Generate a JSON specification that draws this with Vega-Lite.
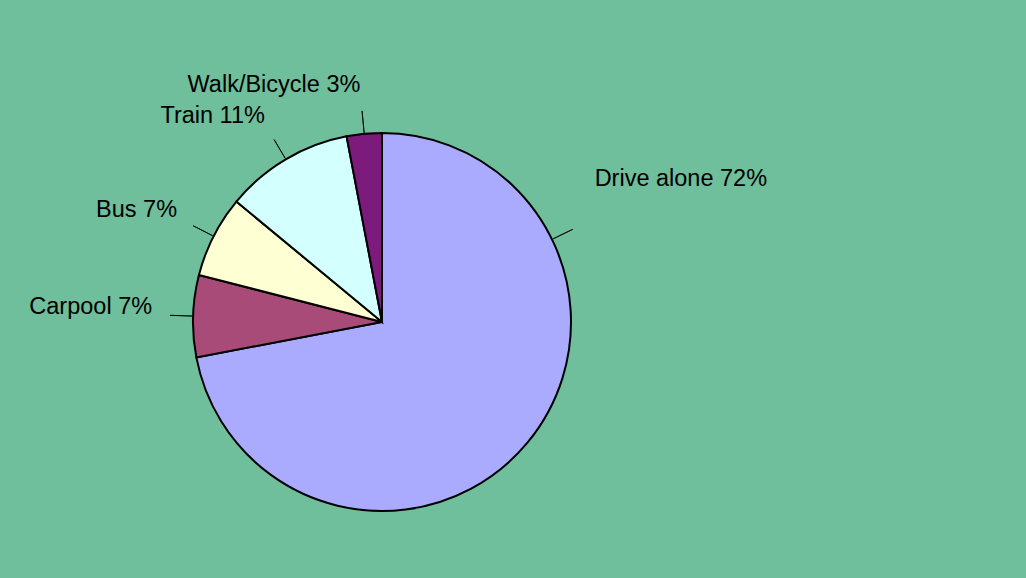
{
  "$schema": "https://vega.github.io/schema/vega-lite/v6.json",
  "width": 378,
  "height": 378,
  "autosize": {"type": "none"},
  "padding": {"left": 193, "top": 133, "right": 455, "bottom": 67},
  "background": "#6fbe9c",
  "config": {"view": {"stroke": null}, "text": {"font": "Liberation Sans"}},
  "data": {
    "values": [
      {"mode": "Drive alone", "pct": 72, "order": 1},
      {"mode": "Carpool", "pct": 7, "order": 2},
      {"mode": "Bus", "pct": 7, "order": 3},
      {"mode": "Train", "pct": 11, "order": 4},
      {"mode": "Walk/Bicycle", "pct": 3, "order": 5}
    ]
  },
  "transform": [
    {"stack": "pct", "groupby": [], "sort": [{"field": "order", "order": "ascending"}], "as": ["v0", "v1"]},
    {"calculate": "(datum.v0 + datum.v1) / 2", "as": "mid"},
    {"calculate": "datum.mode + ' ' + datum.pct + '%'", "as": "label"}
  ],
  "layer": [
    {
      "mark": {"type": "arc", "stroke": "black", "strokeWidth": 2, "radius": 189},
      "encoding": {
        "theta": {"field": "v0", "type": "quantitative", "stack": null, "scale": {"domain": [0, 100]}},
        "theta2": {"field": "v1"},
        "color": {
          "field": "mode",
          "type": "nominal",
          "scale": {
            "domain": ["Drive alone", "Carpool", "Bus", "Train", "Walk/Bicycle"],
            "range": ["#aaaaff", "#a94b78", "#ffffd4", "#d4ffff", "#7c1b7b"]
          },
          "legend": null
        }
      }
    },
    {
      "transform": [{"filter": "datum.mode != 'Drive alone'"}],
      "mark": {"type": "arc", "radius": 212, "radius2": 190, "fill": null, "stroke": "black", "strokeWidth": 0.8},
      "encoding": {
        "theta": {"field": "mid", "type": "quantitative", "stack": null},
        "theta2": {"field": "mid"}
      }
    },
    {
      "transform": [{"filter": "datum.mode != 'Drive alone'"}],
      "mark": {"type": "text", "radius": 230, "align": "right", "baseline": "middle", "dy": -8, "fontSize": 23.5, "color": "black"},
      "encoding": {
        "theta": {"field": "mid", "type": "quantitative", "stack": null},
        "text": {"field": "label"}
      }
    },
    {
      "transform": [{"filter": "datum.mode == 'Drive alone'"}],
      "mark": {"type": "text", "radius": 256, "align": "left", "baseline": "middle", "fontSize": 23.5, "color": "black"},
      "encoding": {
        "theta": {"datum": 15.6},
        "text": {"field": "label"}
      }
    },
    {
      "transform": [{"filter": "datum.mode == 'Drive alone'"}],
      "mark": {"type": "arc", "radius": 212, "radius2": 190, "fill": null, "stroke": "black", "strokeWidth": 0.8},
      "encoding": {
        "theta": {"datum": 17.8},
        "theta2": {"datum": 17.8}
      }
    }
  ]
}
